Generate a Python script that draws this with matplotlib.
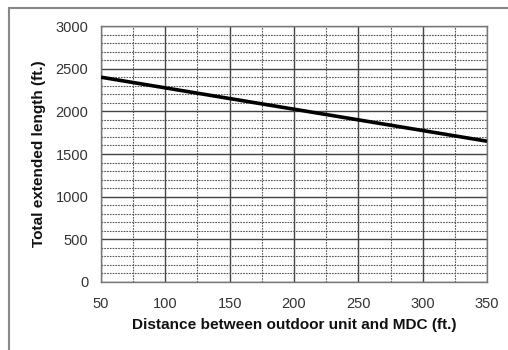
import matplotlib.pyplot as plt
from matplotlib.ticker import MultipleLocator
from matplotlib.lines import Line2D

# distance between outdoor unit and MDC (ft.)
distance = [50, 100, 150, 200, 250, 300, 350]
# total extended length (ft.)
total_length = [2400, 2275, 2150, 2025, 1900, 1775, 1650]

x_ticks = [50, 100, 150, 200, 250, 300, 350]
y_ticks = [0, 500, 1000, 1500, 2000, 2500, 3000]

plt.rcParams['font.family'] = ['Liberation Sans', 'DejaVu Sans']

fig = plt.figure(figsize=(5.08, 3.5), dpi=100)
ax = fig.add_axes([0.1988, 0.1943, 0.7599, 0.7314])

ax.plot(distance, total_length, color='black', linewidth=2.6, solid_capstyle='butt', zorder=3)

ax.set_xlim(50, 350)
ax.set_ylim(0, 3000)
ax.set_xticks(x_ticks)
ax.set_yticks(y_ticks)
ax.xaxis.set_minor_locator(MultipleLocator(25))
ax.yaxis.set_minor_locator(MultipleLocator(100))
ax.grid(which='major', color='#444444', linewidth=1.0, linestyle='-')
ax.grid(which='minor', color='#555555', linewidth=0.8, linestyle=(0, (1.5, 1)))
ax.tick_params(which='both', length=0, labelsize=10.5, colors='#333333')
ax.tick_params(axis='x', pad=11)
ax.tick_params(axis='y', pad=9)
for s in ax.spines.values():
    s.set_color('#777777')
    s.set_linewidth(1.0)

ax.set_xlabel('Distance between outdoor unit and MDC (ft.)', fontsize=11.1,
              fontweight='bold', labelpad=5, color='#111111')
ax.set_ylabel('Total extended length (ft.)', fontsize=11.1, fontweight='bold',
              labelpad=7, color='#111111')

# outer frame (top and left edges visible)
fig.add_artist(Line2D([9 / 508, 1], [1 - 8 / 350, 1 - 8 / 350], color='#888888', linewidth=1.5))
fig.add_artist(Line2D([9 / 508, 9 / 508], [0, 1 - 8 / 350], color='#888888', linewidth=1.5))

fig.savefig('out.png', dpi=100)
